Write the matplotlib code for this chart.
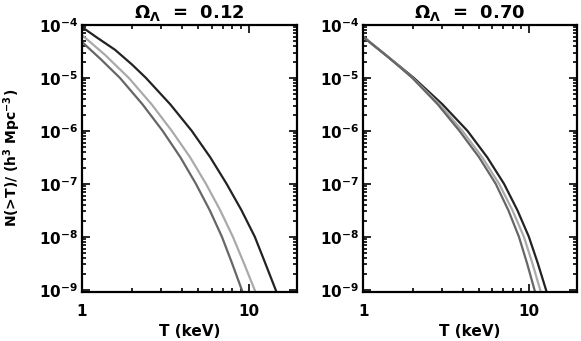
import numpy as np
import matplotlib
matplotlib.use('Agg')
import matplotlib.pyplot as plt
from matplotlib.ticker import LogLocator, FixedLocator, NullFormatter

plt.rcParams['font.family'] = ['DejaVu Sans']
plt.rcParams['font.weight'] = 'bold'
plt.rcParams['mathtext.fontset'] = 'custom'
plt.rcParams['mathtext.rm'] = 'DejaVu Sans:bold'
plt.rcParams['mathtext.it'] = 'DejaVu Sans:bold'
plt.rcParams['mathtext.bf'] = 'DejaVu Sans:bold'
plt.rcParams['mathtext.sf'] = 'DejaVu Sans:bold'

# Omega_Lambda = 0.12 panel: T (keV) and log10 N(>T)
t_a_dark = [1, 1.245, 1.58, 2.0, 2.42, 3.39, 4.56, 5.89, 7.38, 9.07, 10.9, 12.6, 14.7]
logn_a_dark = [-4.04, -4.25, -4.47, -4.75, -5, -5.5, -6, -6.5, -7, -7.5, -8, -8.5, -9.04]
t_a_light = [1, 1.175, 1.38, 1.58, 1.91, 2.62, 3.46, 4.46, 5.55, 6.76, 8.05, 9.38, 11.0]
logn_a_light = [-4.19, -4.38, -4.57, -4.75, -5, -5.5, -6, -6.5, -7, -7.5, -8, -8.5, -9.04]
t_a_mid = [1, 1.135, 1.29, 1.476, 1.69, 2.31, 3.05, 3.90, 4.83, 5.85, 6.92, 7.96, 9.2]
logn_a_mid = [-4.32, -4.48, -4.64, -4.82, -5, -5.5, -6, -6.5, -7, -7.5, -8, -8.5, -9.04]

# Omega_Lambda = 0.70 panel
t_b_dark = [1, 1.175, 1.41, 1.69, 2.02, 3.01, 4.26, 5.61, 7.08, 8.53, 10.0, 11.32, 12.8]
logn_b_dark = [-4.22, -4.4, -4.6, -4.8, -5, -5.5, -6, -6.5, -7, -7.5, -8, -8.5, -9.04]
t_b_light = [1, 1.175, 1.41, 1.68, 1.99, 2.89, 3.97, 5.23, 6.61, 7.96, 9.33, 10.5, 11.8]
logn_b_light = [-4.22, -4.4, -4.6, -4.8, -5, -5.5, -6, -6.5, -7, -7.5, -8, -8.5, -9.04]
t_b_mid = [1, 1.17, 1.405, 1.67, 1.98, 2.82, 3.81, 5.01, 6.31, 7.52, 8.71, 9.75, 10.9]
logn_b_mid = [-4.23, -4.4, -4.6, -4.8, -5, -5.5, -6, -6.5, -7, -7.5, -8, -8.5, -9.04]

titles = [r'$\Omega_\Lambda$  =  0.12', r'$\Omega_\Lambda$  =  0.70']
ytick_vals = [1e-9, 1e-8, 1e-7, 1e-6, 1e-5, 1e-4]
ytick_labels = [r'$10^{-9}$', r'$10^{-8}$', r'$10^{-7}$', r'$10^{-6}$', r'$10^{-5}$', r'$10^{-4}$']
colors = ['#222222', '#aaaaaa', '#666666']

fig = plt.figure(figsize=(5.81, 3.41), dpi=100)
ax1 = fig.add_axes([0.141, 0.144, 0.370, 0.783])
ax2 = fig.add_axes([0.625, 0.144, 0.368, 0.783])

panels = [
    (ax1, [(t_a_dark, logn_a_dark), (t_a_light, logn_a_light), (t_a_mid, logn_a_mid)]),
    (ax2, [(t_b_dark, logn_b_dark), (t_b_light, logn_b_light), (t_b_mid, logn_b_mid)]),
]

for i, (ax, series) in enumerate(panels):
    for (t, logn), c in zip(series, colors):
        ax.plot(t, 10.0 ** np.array(logn), color=c, lw=1.6)
    ax.set_xscale('log')
    ax.set_yscale('log')
    ax.set_xlim(1, 19.5)
    ax.set_ylim(9.1e-10, 1e-4)
    ax.xaxis.set_major_locator(FixedLocator([1, 10]))
    ax.set_xticklabels(['1', '10'])
    ax.xaxis.set_minor_locator(LogLocator(base=10, subs=np.arange(2, 10)))
    ax.xaxis.set_minor_formatter(NullFormatter())
    ax.yaxis.set_major_locator(FixedLocator(ytick_vals))
    ax.set_yticklabels(ytick_labels)
    ax.yaxis.set_minor_locator(LogLocator(base=10, subs=np.arange(2, 10)))
    ax.yaxis.set_minor_formatter(NullFormatter())
    ax.tick_params(which='both', direction='in', top=True, right=True, width=1.2)
    ax.tick_params(which='major', length=6, labelsize=11)
    ax.tick_params(which='minor', length=3)
    ax.tick_params(axis='x', which='major', pad=9)
    ax.tick_params(axis='y', which='major', pad=3)
    for s in ax.spines.values():
        s.set_linewidth(1.6)
    ax.set_title(titles[i], fontsize=13, fontweight='bold', pad=5)
    ax.set_xlabel('T (keV)', fontsize=11, fontweight='bold', labelpad=3)

ax1.set_ylabel(r'N(>T)/ (h$^3$ Mpc$^{-3}$)', fontsize=10, fontweight='bold')
ax1.yaxis.set_label_coords(-0.275, 0.5)

fig.savefig('out.png', dpi=100)
